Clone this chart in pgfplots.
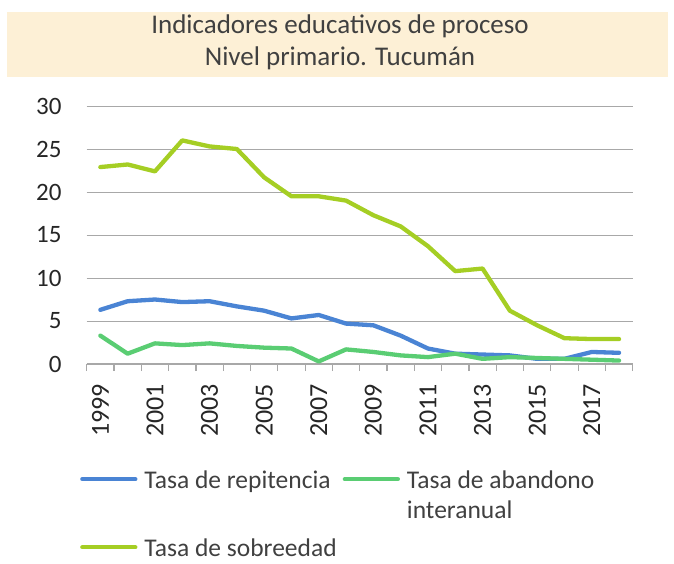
\documentclass[border=0pt]{standalone}
\usepackage{pgfplots}
\pgfplotsset{compat=1.18}
\usepackage{fontspec}
\setmainfont{Carlito}
\definecolor{cRep}{HTML}{4A84D4}
\definecolor{cAba}{HTML}{5ACD73}
\definecolor{cSob}{HTML}{A5CE24}
\definecolor{cBox}{HTML}{FDF0D6}
\definecolor{cTxt}{HTML}{404040}
\definecolor{cGrid}{HTML}{A8A8A8}
\begin{document}
\begin{tikzpicture}
\useasboundingbox (0,0) rectangle (674pt,563pt);
\fill[cBox] (7pt,486pt) rectangle (668pt,551pt);
\node[text=cTxt, font=\fontsize{27}{31}\selectfont, anchor=base] at (340pt,529pt) {Indicadores educativos de proceso};
\node[text=cTxt, font=\fontsize{27}{31}\selectfont, anchor=base] at (340pt,497pt) {Nivel primario. Tucumán};
\begin{axis}[
  at={(86.7pt,199pt)}, anchor=south west,
  scale only axis, width=546pt, height=258pt,
  xmin=-0.5, xmax=19.5, ymin=0, ymax=30,
  axis lines*=left,
  y axis line style={draw=none},
  x axis line style={draw=cGrid, line width=1.4pt},
  ytick={0,5,...,30},
  ymajorgrids, grid style={cGrid, line width=1pt},
  ytick style={draw=none},
  xtick={0,2,...,18},
  xticklabels={1999,2001,2003,2005,2007,2009,2011,2013,2015,2017},
  minor xtick={-0.5,0.5,...,19.5},
  tick align=outside,
  major tick length=0pt, minor tick length=7pt,
  minor x tick style={draw=cGrid, line width=1.2pt},
  major x tick style={draw=none},
  /pgf/number format/assume math mode=true,
  yticklabel style={font=\fontsize{25}{29}\selectfont, text=black!85, inner sep=0pt, anchor=east, xshift=-25pt},
  xticklabel style={font=\fontsize{26}{30}\selectfont, text=black!85, inner sep=0pt, yshift=-20pt, rotate=90, anchor=east},
  clip=false,
  legend columns=2,
  legend cell align=left,
  legend style={at={(-0.0123,-0.391)}, anchor=north west, draw=none, fill=none, inner sep=0pt,
    font=\fontsize{25.5}{30}\selectfont, text=cTxt,
    cells={anchor=base west, inner sep=0pt},
    /tikz/every even column/.append style={column sep=4pt},
    row sep=45pt},
  legend image code/.code={\draw[#1, line cap=round] (0pt,9pt) -- (53pt,9pt);},
  every axis plot/.append style={line width=4.3pt, line join=round, line cap=round},
]
\addplot[cRep] coordinates {(0,6.3)(1,7.3)(2,7.5)(3,7.2)(4,7.3)(5,6.7)(6,6.2)(7,5.3)(8,5.7)(9,4.7)(10,4.5)(11,3.3)(12,1.8)(13,1.2)(14,1.1)(15,1.0)(16,0.6)(17,0.6)(18,1.4)(19,1.3)};
\addlegendentry{\hspace{5pt}Tasa de repitencia}
\addplot[cAba] coordinates {(0,3.3)(1,1.2)(2,2.4)(3,2.2)(4,2.4)(5,2.1)(6,1.9)(7,1.8)(8,0.3)(9,1.7)(10,1.4)(11,1.0)(12,0.8)(13,1.2)(14,0.6)(15,0.8)(16,0.7)(17,0.6)(18,0.5)(19,0.4)};
\addlegendentry{\hspace{5pt}\begin{tabular}[t]{@{}l@{}}Tasa de abandono\\[0pt]interanual\end{tabular}}
\addplot[cSob] coordinates {(0,22.9)(1,23.2)(2,22.4)(3,26.0)(4,25.3)(5,25.0)(6,21.7)(7,19.5)(8,19.5)(9,19.0)(10,17.3)(11,16.0)(12,13.7)(13,10.8)(14,11.1)(15,6.2)(16,4.5)(17,3.0)(18,2.9)(19,2.9)};
\addlegendentry{\hspace{5pt}Tasa de sobreedad}
\end{axis}
\end{tikzpicture}
\end{document}
